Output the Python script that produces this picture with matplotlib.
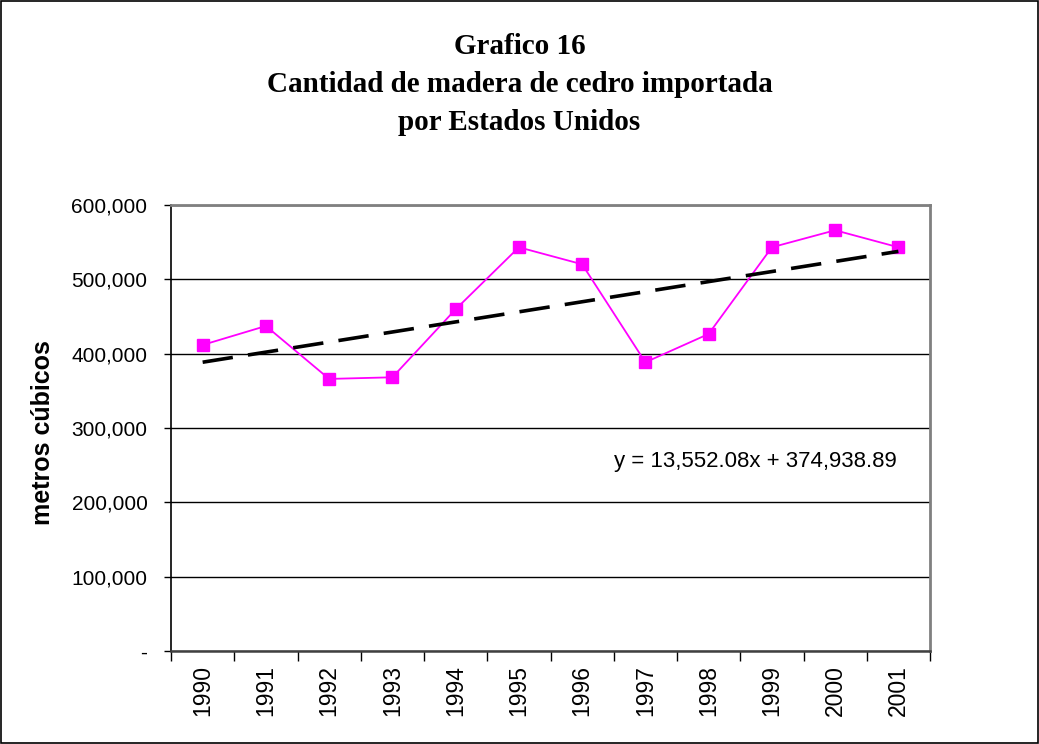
import matplotlib.pyplot as plt
import numpy as np
from matplotlib.ticker import FixedLocator, FuncFormatter

years = ["1990", "1991", "1992", "1993", "1994", "1995",
         "1996", "1997", "1998", "1999", "2000", "2001"]
volumes = [411700, 437200, 366000, 368200, 459700, 543100,
           520200, 388400, 426500, 543100, 566000, 543100]  # metros cubicos
slope = 13552.08
intercept = 374938.89
title_lines = ["Grafico 16", "Cantidad de madera de cedro importada", "por Estados Unidos"]

plt.rcParams.update({"font.family": "Liberation Sans", "lines.scale_dashes": False})

fig = plt.figure(figsize=(10.39, 7.44), dpi=100)
ax = fig.add_axes([0.1646, 0.125, 0.7305, 0.5995])

x = np.arange(1, len(years) + 1)
ax.plot(x, volumes, color="#FF00FF", lw=1.3, marker="s", ms=8.5, zorder=3)
trend = slope * x + intercept
ax.plot(x[[0, -1]], trend[[0, -1]], color="black", lw=2.6, dashes=(22, 11), zorder=4)

ax.set_xlim(0.5, len(years) + 0.5)
ax.set_ylim(0, 600000)
ax.set_yticks(np.arange(0, 600001, 100000))
ax.yaxis.set_major_formatter(FuncFormatter(lambda v, p: "-" if v == 0 else f"{v:,.0f}"))
ax.grid(axis="y", color="black", lw=1)
ax.set_axisbelow(True)

ax.set_xticks(x)
ax.set_xticklabels(years, rotation=90, va="top", ha="center")
ax.xaxis.set_minor_locator(FixedLocator(np.arange(0.5, len(years) + 1, 1)))
ax.tick_params(axis="x", which="major", length=0, pad=10, labelsize=16.5)
ax.tick_params(axis="x", which="minor", length=7, width=1, direction="out")
ax.tick_params(axis="y", length=5, width=1, pad=12, labelsize=15)

for side in ["top", "right"]:
    ax.spines[side].set_color("#808080")
    ax.spines[side].set_linewidth(2)
ax.spines["left"].set_color("black")
ax.spines["left"].set_linewidth(1.2)
ax.spines["bottom"].set_color("#404040")
ax.spines["bottom"].set_linewidth(1.8)

ax.text(0.9565, 0.4238, f"y = {slope:,.2f}x + {intercept:,.2f}", transform=ax.transAxes,
        ha="right", va="center", fontsize=16)

fig.text(0.0414, 0.418, "metros cúbicos", rotation=90, ha="center", va="center",
         fontsize=18, fontweight="bold")

for i, line in enumerate(title_lines):
    fig.text(0.5, 0.937 - i * 0.0511, line, ha="center", va="center",
             family="Liberation Serif", fontweight="bold", fontsize=21)

fig.patches.append(plt.Rectangle((0.0005, 0.0007), 0.999, 0.9986, transform=fig.transFigure,
                                 fill=False, edgecolor="black", lw=1.2))

plt.savefig("out.png")
